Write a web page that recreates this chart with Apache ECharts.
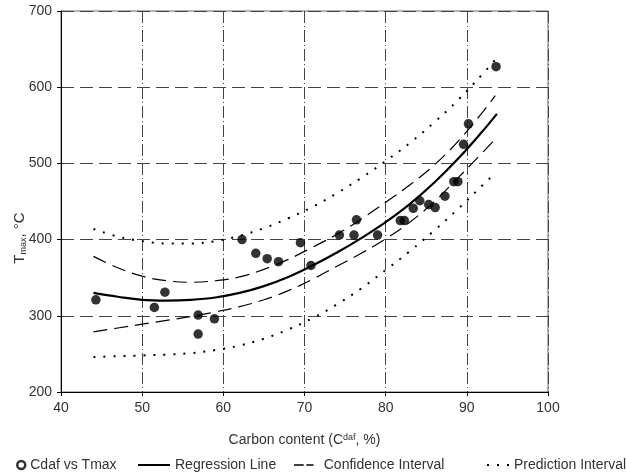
<!DOCTYPE html>
<html>
<head>
<meta charset="utf-8">
<script src="https://cdn.jsdelivr.net/npm/echarts@6/dist/echarts.min.js"></script>
<style>
html,body{margin:0;padding:0;background:#fff;}
#chart{width:626px;height:475px;}
</style>
</head>
<body>
<div id="chart"></div>
<script>
// Observed data: [Carbon content (%), Tmax (°C)]
const points = [
  [44.3,321],[51.5,311],[52.8,331],[56.9,301],[56.9,276],[58.9,296],
  [62.3,400],[64.0,382],[65.4,375],[66.8,371],[69.5,396],[70.8,366],
  [74.3,406],[76.1,406],[76.4,426],[79.0,406],[81.8,425],[82.3,425],
  [83.4,441],[84.2,451],[85.3,446],[86.1,442],[87.3,457],[88.4,476],
  [88.9,476],[89.6,525],[90.2,552],[93.6,627]
];
// Curves
const regression = [[44,330],[47,325],[50,321],[53,320],[56,321],[59,324],[62,330],[65,339],[68,351],[71,366],[74,383],[77,402],[80,423],[83,447],[86,475],[89,507],[92,543],[93.7,565]];
const confUpper  = [[44,378],[47,363],[50,352],[53,346],[56,344],[59,346],[62,351],[65,361],[68,374],[71,390],[74,407],[77,427],[80,449],[83,472],[86,498],[89,530],[92,568],[93.5,589]];
const confLower  = [[44,279],[47,284],[50,289],[53,294],[56,299],[59,305],[62,312],[65,321],[68,333],[71,348],[74,365],[77,382],[80,401],[83,423],[86,450],[89,482],[92,515],[93.5,532]];
const predUpper  = [[44,414],[47,404],[50,398],[53,395],[56,395],[59,398],[62,405],[65,415],[68,428],[71,443],[74,461],[77,481],[80,503],[83,527],[86,554],[89,584],[92,618],[93.5,636]];
const predLower  = [[44,246],[47,247],[50,248],[53,249],[56,251],[59,255],[62,261],[65,270],[68,282],[71,297],[74,315],[77,336],[80,360],[83,385],[86,412],[89,441],[92,472],[93.5,487]];

const xTicks = {min:40, max:100, interval:10};
const yTicks = {min:200, max:700, interval:100};

const FONT = "'Liberation Sans',Arial,sans-serif";
const TXT = '#333';

const chart = echarts.init(document.getElementById('chart'), null, {renderer:'canvas'});

const legendBase = {
  top: 453, orient:'horizontal', itemGap:0,
  textStyle:{fontFamily:FONT, fontSize:14, color:TXT},
  selectedMode:false
};

chart.setOption({
  animation:false,
  backgroundColor:'#fff',
  grid:{left:61, right:78, top:11, bottom:83, show:true, borderColor:'#666', borderWidth:1},
  xAxis:{
    type:'value', min:xTicks.min, max:xTicks.max, interval:xTicks.interval,
    name:'{a|Carbon content (C}{s|daf}{a|, %)}',
    nameLocation:'middle', nameGap:41,
    nameTextStyle:{rich:{
      a:{fontFamily:FONT, fontSize:14, color:TXT},
      s:{fontFamily:FONT, fontSize:9, color:TXT, verticalAlign:'top', padding:[0,0,6,0]}
    }},
    axisLine:{show:true, lineStyle:{color:'#000', width:1}},
    axisTick:{show:true, length:4, lineStyle:{color:'#000'}},
    axisLabel:{fontFamily:FONT, fontSize:14, color:TXT, margin:9},
    splitLine:{show:true, lineStyle:{color:'#444', width:1, type:[12,3,1,3]}}
  },
  yAxis:{
    type:'value', min:yTicks.min, max:yTicks.max, interval:yTicks.interval,
    axisLine:{show:true, lineStyle:{color:'#000', width:1}},
    axisTick:{show:true, length:4, lineStyle:{color:'#000'}},
    axisLabel:{fontFamily:FONT, fontSize:14, color:TXT, margin:9},
    splitLine:{show:true, lineStyle:{color:'#444', width:1, type:[13,6]}}
  },
  graphic:[{
    type:'text', x:20, y:238, rotation:Math.PI/2,
    style:{
      text:'{a|T}{s|max}{a|, °C}',
      align:'center', verticalAlign:'middle',
      rich:{
        a:{fontFamily:FONT, fontSize:15, fill:TXT, color:TXT},
        s:{fontFamily:FONT, fontSize:9, fill:TXT, color:TXT, verticalAlign:'bottom', padding:[7,0,0,0]}
      }
    }
  }],
  legend:[
    Object.assign({}, legendBase, {left:11, itemWidth:8, itemHeight:8,
      data:[{name:'Cdaf vs Tmax', icon:'circle', itemStyle:{color:'#fff', borderColor:'#000', borderWidth:2.5}}]}),
    Object.assign({}, legendBase, {left:133, itemWidth:32, itemHeight:2,
      data:[{name:'Regression Line', icon:'path://M0,0h32v2h-32z', itemStyle:{color:'#000'}}]}),
    Object.assign({}, legendBase, {left:289, itemWidth:30, itemHeight:1.3,
      data:[{name:'Confidence Interval', icon:'path://M0,0h15v2h-15z M19,0h11v2h-11z', itemStyle:{color:'#000'}}]}),
    Object.assign({}, legendBase, {left:482, itemWidth:22, itemHeight:2,
      data:[{name:'Prediction Interval', icon:'path://M0,0h2v2h-2z M10,0h2v2h-2z M20,0h2v2h-2z', itemStyle:{color:'#000'}}]})
  ],
  series:[
    {name:'Cdaf vs Tmax', type:'scatter', data:points, symbol:'circle', symbolSize:9.5, itemStyle:{color:'#000'}, z:5},
    {name:'Regression Line', type:'line', data:regression, smooth:0.4, symbol:'none', itemStyle:{color:'#000'}, lineStyle:{color:'#000', width:2.2}},
    {name:'Confidence Interval', type:'line', data:confUpper, smooth:0.4, symbol:'none', itemStyle:{color:'#000'}, lineStyle:{color:'#000', width:1.2, type:[14,7]}},
    {name:'Confidence Interval', type:'line', data:confLower, smooth:0.4, symbol:'none', itemStyle:{color:'#000'}, lineStyle:{color:'#000', width:1.2, type:[14,7]}},
    {name:'Prediction Interval', type:'line', data:predUpper, smooth:0.4, symbol:'none', itemStyle:{color:'#000'}, lineStyle:{color:'#000', width:2, type:[2,8]}},
    {name:'Prediction Interval', type:'line', data:predLower, smooth:0.4, symbol:'none', itemStyle:{color:'#000'}, lineStyle:{color:'#000', width:2, type:[2,8]}}
  ]
});
</script>
</body>
</html>
